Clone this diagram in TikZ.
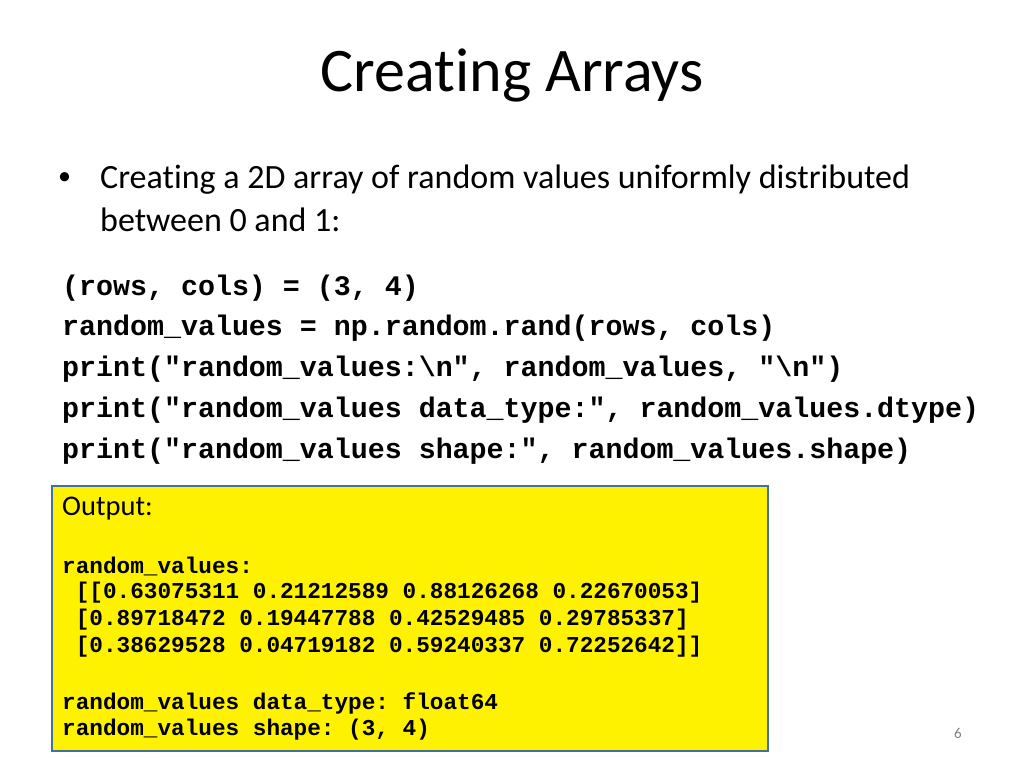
\documentclass[tikz,border=0pt]{standalone}
\usepackage{fontspec}
\setmainfont{Carlito}[Ligatures={NoCommon}]
\newfontfamily\code{Liberation Mono}
\definecolor{boxborder}{HTML}{41719C}
\frenchspacing
\begin{document}
\begin{tikzpicture}[x=1pt,y=-1pt,
  codeline/.style={anchor=west,inner sep=0pt,font=\code\bfseries\fontsize{28.3}{30}\selectfont},
  outline/.style={anchor=west,inner sep=0pt,font=\code\bfseries\fontsize{22.7}{24}\selectfont}]
\useasboundingbox[fill=white] (0,0) rectangle (1024,768);
\node[font=\fontsize{62}{66}\selectfont] (title) at (512,75) {Creating Arrays};
\node[anchor=west,inner sep=0pt,font=\fontsize{34}{36}\selectfont] (bul) at (58,179) {\fontsize{26}{28}\selectfont•};
\node[anchor=west,inner sep=0pt,font=\fontsize{34}{36}\selectfont] (b1) at (100,180) {Creating a 2D array of random values uniformly distributed};
\node[anchor=west,inner sep=0pt,font=\fontsize{34}{36}\selectfont] (b2) at (100,220) {between 0 and 1:};
\node[codeline] (c1) at (62,288) {(rows, cols) = (3, 4)};
\node[codeline] (c2) at (62,328) {random\_values = np.random.rand(rows, cols)};
\node[codeline] (c3) at (62,369) {print("random\_values:\textbackslash n", random\_values, "\textbackslash n")};
\node[codeline] (c4) at (62,410) {print("random\_values data\_type:", random\_values.dtype)};
\node[codeline] (c5) at (62,451) {print("random\_values shape:", random\_values.shape)};
\draw[boxborder,line width=2pt,fill=yellow] (52,486) rectangle (768,751);
\node[anchor=west,inner sep=0pt,font=\fontsize{28.5}{30}\selectfont] (out) at (62,509) {Output:};
\node[outline] (o1) at (62,566) {random\_values:};
\node[outline] (o2) at (62,593) {\ [[0.63075311 0.21212589 0.88126268 0.22670053]};
\node[outline] (o3) at (62,620) {\ [0.89718472 0.19447788 0.42529485 0.29785337]};
\node[outline] (o4) at (62,647) {\ [0.38629528 0.04719182 0.59240337 0.72252642]]};
\node[outline] (o5) at (62,703) {random\_values data\_type: float64};
\node[outline] (o6) at (62,730) {random\_values shape: (3, 4)};
\node[text=gray,font=\fontsize{15}{16}\selectfont] (pg) at (958,733) {6};
\end{tikzpicture}
\end{document}
